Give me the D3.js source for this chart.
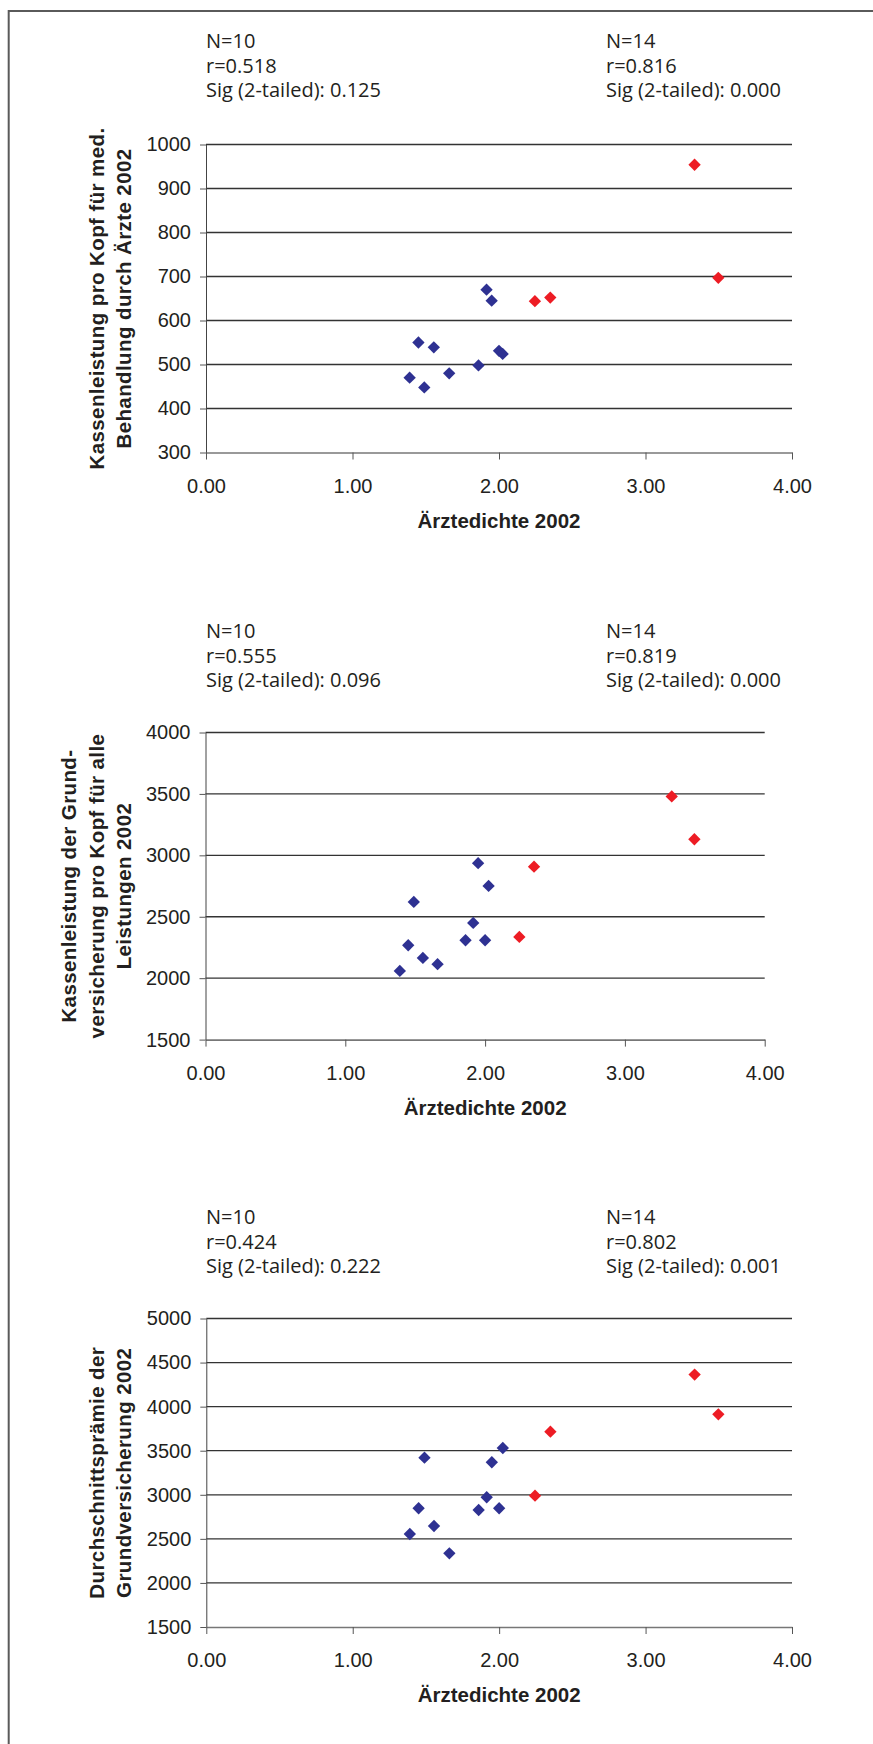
<!DOCTYPE html>
<html>
<head>
<meta charset="utf-8">
<script src="https://cdn.jsdelivr.net/npm/d3@7"></script>
<style>
  body { margin: 0; background: #fff; }
  svg { display: block; }
  .note { font-family: 'Open Sans', sans-serif; font-size: 20px; fill: #231f20; }
  .axis text { font-family: 'Liberation Sans', Arial, sans-serif; font-size: 20px; fill: #231f20; }
  .title { font-family: 'Liberation Sans', Arial, sans-serif; font-size: 20px; font-weight: bold; fill: #231f20; }
  .ytitle { letter-spacing: 0.4px; font-size: 20.5px; }
</style>
</head>
<body>
<svg id="chart" width="873" height="1744"></svg>
<script>
// Ärztedichte 2002 (shared x values for all three panels)
const xTicks = [0, 1, 2, 3, 4];
const blueX = [1.39, 1.45, 1.49, 1.555, 1.66, 1.86, 1.915, 1.95, 2.00, 2.025];
const redX = [2.245, 2.35, 3.335, 3.497];

// panel 1: Kassenleistung pro Kopf für med. Behandlung durch Ärzte 2002
const kassenAerzteTicks = [300, 400, 500, 600, 700, 800, 900, 1000];
const kassenAerzteBlue = [470, 550, 448, 539, 480, 498, 670, 645, 531, 524];
const kassenAerzteRed = [644, 652, 954, 697];
const kassenAerzteTitle = ['Kassenleistung pro Kopf für med.', 'Behandlung durch Ärzte 2002'];
const kassenAerzteNotes = [['N=10', 'r=0.518', 'Sig (2-tailed): 0.125'], ['N=14', 'r=0.816', 'Sig (2-tailed): 0.000']];

// panel 2: Kassenleistung der Grundversicherung pro Kopf für alle Leistungen 2002
const kassenAlleTicks = [1500, 2000, 2500, 3000, 3500, 4000];
const kassenAlleBlue = [2059, 2268, 2621, 2165, 2114, 2309, 2450, 2936, 2309, 2751];
const kassenAlleRed = [2336, 2908, 3480, 3131];
const kassenAlleTitle = ['Kassenleistung der Grund-', 'versicherung pro Kopf für alle', 'Leistungen 2002'];
const kassenAlleNotes = [['N=10', 'r=0.555', 'Sig (2-tailed): 0.096'], ['N=14', 'r=0.819', 'Sig (2-tailed): 0.000']];

// panel 3: Durchschnittsprämie der Grundversicherung 2002
const praemieTicks = [1500, 2000, 2500, 3000, 3500, 4000, 4500, 5000];
const praemieBlue = [2555, 2847, 3421, 2646, 2336, 2827, 2972, 3369, 2847, 3531];
const praemieRed = [2990, 3716, 4364, 3913];
const praemieTitle = ['Durchschnittsprämie der', 'Grundversicherung 2002'];
const praemieNotes = [['N=10', 'r=0.424', 'Sig (2-tailed): 0.222'], ['N=14', 'r=0.802', 'Sig (2-tailed): 0.001']];

const xTitle = 'Ärztedichte 2002';

const blue = '#2e3192';
const red = '#ed1c24';

const svg = d3.select('#chart');

// outer frame (open to the right and bottom)
svg.append('path')
    .attr('d', 'M8.7,1744 V11 H873')
    .attr('fill', 'none')
    .attr('stroke', '#5a5a5a')
    .attr('stroke-width', 2);

const diamond = d3.symbol(d3.symbolSquare, 76);

function drawPanel(p) {
    let x = d3.scaleLinear().domain([0, 4]).range([p.left, p.right]);
    let y = d3.scaleLinear().domain([p.ticks[0], p.ticks[p.ticks.length - 1]]).range([p.bottom, p.top]);

    let g = svg.append('g');

    // horizontal gridlines
    g.append('g')
        .selectAll('line')
        .data(p.ticks.slice(1))
        .join('line')
        .attr('x1', p.left).attr('x2', p.right)
        .attr('y1', d => y(d)).attr('y2', d => y(d))
        .attr('stroke', '#333')
        .attr('stroke-width', 1.3);

    // y axis
    let yAxis = g.append('g')
        .attr('class', 'axis')
        .attr('transform', 'translate(' + p.left + ',0)')
        .call(d3.axisLeft(y).tickValues(p.ticks).tickSize(6).tickSizeOuter(0).tickPadding(9).tickFormat(d3.format('d')));
    yAxis.select('.domain').attr('stroke', '#444').attr('stroke-width', 1);
    yAxis.selectAll('.tick line').attr('stroke', '#555');

    // x axis
    let xAxis = g.append('g')
        .attr('class', 'axis')
        .attr('transform', 'translate(0,' + p.bottom + ')')
        .call(d3.axisBottom(x).tickValues(xTicks).tickSize(7).tickSizeOuter(0).tickFormat(d3.format('.2f')));
    xAxis.select('.domain').attr('stroke', '#777').attr('stroke-width', 1.6);
    xAxis.selectAll('.tick line').attr('stroke', '#555');
    xAxis.selectAll('.tick text').attr('y', 40).attr('dy', null);

    // markers
    let points = p.blue.map((v, i) => ({ x: blueX[i], y: v, c: blue }))
        .concat(p.red.map((v, i) => ({ x: redX[i], y: v, c: red })));
    g.append('g')
        .selectAll('path')
        .data(points)
        .join('path')
        .attr('d', diamond)
        .attr('fill', d => d.c)
        .attr('transform', d => 'translate(' + x(d.x) + ',' + y(d.y) + ') rotate(45)');

    // x title
    g.append('text')
        .attr('class', 'title')
        .attr('x', (p.left + p.right) / 2)
        .attr('y', p.bottom + 75)
        .attr('text-anchor', 'middle')
        .style('font-size', '20.5px')
        .text(xTitle);

    // y title (rotated, last line nearest the axis)
    let cy = (p.top + p.bottom) / 2;
    let n = p.title.length;
    p.title.forEach((line, i) => {
        let bx = 131 - (n - 1 - i) * 27.5;
        g.append('text')
            .attr('class', 'title ytitle')
            .attr('transform', 'translate(' + bx + ',' + cy + ') rotate(-90)')
            .attr('text-anchor', 'middle')
            .text(line);
    });

    // correlation notes
    p.notes.forEach((block, j) => {
        block.forEach((line, i) => {
            g.append('text')
                .attr('class', 'note')
                .attr('x', j === 0 ? 206 : 606)
                .attr('y', p.noteTop + i * 24.7)
                .text(line);
        });
    });
}

drawPanel({ top: 144.5, bottom: 452.5, left: 206, right: 792, noteTop: 48,
    ticks: kassenAerzteTicks, blue: kassenAerzteBlue, red: kassenAerzteRed,
    title: kassenAerzteTitle, notes: kassenAerzteNotes });

drawPanel({ top: 732.5, bottom: 1039.6, left: 205.5, right: 764.7, noteTop: 638,
    ticks: kassenAlleTicks, blue: kassenAlleBlue, red: kassenAlleRed,
    title: kassenAlleTitle, notes: kassenAlleNotes });

drawPanel({ top: 1318.5, bottom: 1627, left: 206.3, right: 792, noteTop: 1224,
    ticks: praemieTicks, blue: praemieBlue, red: praemieRed,
    title: praemieTitle, notes: praemieNotes });
</script>
</body>
</html>
